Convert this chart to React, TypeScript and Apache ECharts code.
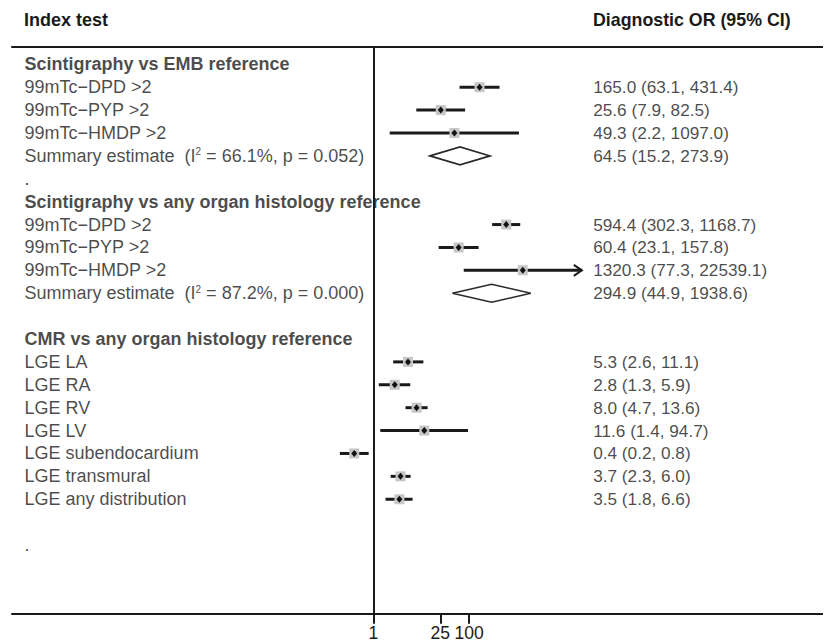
import React, { useEffect, useRef } from "react";
import * as echarts from "echarts";

// ---------- data ----------
const rowLabels: string[] = [
  "Scintigraphy vs EMB reference",
  "99mTc\u2212DPD >2",
  "99mTc\u2212PYP >2",
  "99mTc\u2212HMDP >2",
  "Summary estimate  (I{sup|2} = 66.1%, p = 0.052)",
  ".",
  "Scintigraphy vs any organ histology reference",
  "99mTc\u2212DPD >2",
  "99mTc\u2212PYP >2",
  "99mTc\u2212HMDP >2",
  "Summary estimate  (I{sup|2} = 87.2%, p = 0.000)",
  "",
  "CMR vs any organ histology reference",
  "LGE LA",
  "LGE RA",
  "LGE RV",
  "LGE LV",
  "LGE subendocardium",
  "LGE transmural",
  "LGE any distribution",
  "",
  ".",
];
const headingRows = [0, 6, 12];

const studyRows = [1, 2, 3, 7, 8, 9, 13, 14, 15, 16, 17, 18, 19];
const studyOR = [165.0, 25.6, 49.3, 594.4, 60.4, 1320.3, 5.3, 2.8, 8.0, 11.6, 0.4, 3.7, 3.5];
const studyLo = [63.1, 7.9, 2.2, 302.3, 23.1, 77.3, 2.6, 1.3, 4.7, 1.4, 0.2, 2.3, 1.8];
const studyHi = [431.4, 82.5, 1097.0, 1168.7, 157.8, 22539.1, 11.1, 5.9, 13.6, 94.7, 0.8, 6.0, 6.6];

const summaryRows = [4, 10];
const summaryOR = [64.5, 294.9];
const summaryLo = [15.2, 44.9];
const summaryHi = [273.9, 1938.6];

const tickValues = [1, 25, 100];
const tickLabels = ["1", "25", "100"];

const headerLeft = "Index test";
const headerRight = "Diagnostic OR (95% CI)";

// ---------- layout ----------
const ARROW_LIMIT = 20000;
const X_MIN = -7.543; // log10 space
const X_MAX = 9.555;
const Y_MIN = -0.77;
const Y_MAX = 24;
const LEFT_TEXT_X = -7.292;
const RIGHT_TEXT_X = 4.580;
const FONT = "'Liberation Sans', Arial, Helvetica, sans-serif";
const INK = "#1a1a1a";
const LEFT_FS = 18;
const RIGHT_FS = 17.2;

const fmt = (v: number) => v.toFixed(1);

export default function App() {
  const ref = useRef<HTMLDivElement>(null);
  useEffect(() => {
    if (!ref.current) return;
    const chart = echarts.init(ref.current, undefined, { renderer: "svg" });

    const labelData: any[] = [];
    rowLabels.forEach((t, i) => {
      if (!t) return;
      labelData.push({
        name: t,
        value: [LEFT_TEXT_X, i],
        label: headingRows.includes(i)
          ? { fontWeight: "bold", fontSize: LEFT_FS }
          : { fontSize: LEFT_FS },
      });
    });
    studyRows.forEach((r, i) => {
      labelData.push({
        name: `${fmt(studyOR[i])} (${fmt(studyLo[i])}, ${fmt(studyHi[i])})`,
        value: [RIGHT_TEXT_X, r],
        label: { fontSize: RIGHT_FS },
      });
    });
    summaryRows.forEach((r, i) => {
      labelData.push({
        name: `${fmt(summaryOR[i])} (${fmt(summaryLo[i])}, ${fmt(summaryHi[i])})`,
        value: [RIGHT_TEXT_X, r],
        label: { fontSize: RIGHT_FS },
      });
    });

    const studyData = studyRows.map((r, i) => [
      r,
      Math.log10(studyLo[i]),
      Math.log10(studyHi[i]),
      Math.log10(studyOR[i]),
      studyHi[i] > ARROW_LIMIT ? 1 : 0,
    ]);
    const summaryData = summaryRows.map((r, i) => [
      r,
      Math.log10(summaryLo[i]),
      Math.log10(summaryHi[i]),
      Math.log10(summaryOR[i]),
    ]);

    const logTicks = tickValues.map((v) => Math.log10(v));

    const option: any = {
      animation: false,
      textStyle: { fontFamily: FONT },
      grid: {
        left: 4,
        right: 0,
        top: 38.7,
        bottom: 30.3,
        containLabel: false,
        outerBoundsMode: "none",
      },
      xAxis: [
        {
          type: "value",
          min: X_MIN,
          max: X_MAX,
          position: "bottom",
          axisLine: { onZero: false, lineStyle: { color: INK, width: 2 } },
          axisTick: {
            show: true,
            customValues: logTicks,
            length: 10,
            lineStyle: { color: INK, width: 2 },
          },
          axisLabel: {
            show: true,
            customValues: logTicks,
            formatter: (v: number) => {
              const k = logTicks.findIndex((t) => Math.abs(t - v) < 1e-6);
              return k >= 0 ? tickLabels[k] : "";
            },
            fontSize: 17.5,
            lineHeight: 17,
            color: INK,
            fontFamily: FONT,
            margin: 11,
          },
          splitLine: { show: false },
        },
        {
          type: "value",
          min: X_MIN,
          max: X_MAX,
          position: "top",
          axisLine: { onZero: false, lineStyle: { color: INK, width: 2 } },
          axisTick: { show: false },
          axisLabel: { show: false },
          splitLine: { show: false },
        },
      ],
      yAxis: {
        type: "value",
        inverse: true,
        min: Y_MIN,
        max: Y_MAX,
        show: false,
      },
      graphic: [
        {
          type: "text",
          x: 16,
          y: 11.5,
          style: {
            text: headerLeft,
            font: `bold ${LEFT_FS}px ${FONT}`,
            fill: INK,
            verticalAlign: "middle",
          },
        },
        {
          type: "text",
          x: 585,
          y: 11.5,
          style: {
            text: headerRight,
            font: `bold 17.8px ${FONT}`,
            fill: INK,
            verticalAlign: "middle",
          },
        },
      ],
      series: [
        {
          type: "scatter",
          silent: true,
          symbol: "circle",
          symbolSize: 1,
          itemStyle: { color: "rgba(0,0,0,0)" },
          clip: false,
          data: labelData,
          label: {
            show: true,
            position: "right",
            distance: 0,
            formatter: (p: any) => p.name,
            fontSize: LEFT_FS,
            color: INK,
            fontFamily: FONT,
            rich: {
              sup: { fontSize: 10, verticalAlign: "top", color: INK, fontFamily: FONT },
            },
          },
          markLine: {
            silent: true,
            symbol: "none",
            label: { show: false },
            lineStyle: { type: "solid", width: 2, color: INK },
            data: [{ xAxis: 0 }],
          },
          z: 3,
        },
        {
          type: "custom",
          silent: true,
          encode: { x: [1, 2, 3], y: 0 },
          data: studyData,
          renderItem: (_params: any, api: any) => {
            const row = api.value(0);
            const pLo = api.coord([api.value(1), row]);
            const pHi = api.coord([api.value(2), row]);
            const pE = api.coord([api.value(3), row]);
            const arrow = api.value(4);
            const children: any[] = [
              {
                type: "line",
                shape: { x1: pLo[0], y1: pLo[1], x2: pHi[0], y2: pHi[1] },
                style: { stroke: INK, lineWidth: 3 },
              },
            ];
            if (arrow) {
              children.push({
                type: "polyline",
                shape: {
                  points: [
                    [pHi[0] - 8, pHi[1] - 5.5],
                    [pHi[0], pHi[1]],
                    [pHi[0] - 8, pHi[1] + 5.5],
                  ],
                },
                style: { stroke: INK, lineWidth: 2, fill: "none" },
              });
            }
            children.push({
              type: "rect",
              shape: { x: pE[0] - 5, y: pE[1] - 5, width: 10, height: 10 },
              style: { fill: "#c6c6c6" },
            });
            children.push({
              type: "polygon",
              shape: {
                points: [
                  [pE[0] - 3, pE[1]],
                  [pE[0], pE[1] - 3.5],
                  [pE[0] + 3, pE[1]],
                  [pE[0], pE[1] + 3.5],
                ],
              },
              style: { fill: "#111" },
            });
            return { type: "group", children };
          },
          z: 2,
        },
        {
          type: "custom",
          silent: true,
          encode: { x: [1, 2, 3], y: 0 },
          data: summaryData,
          renderItem: (_params: any, api: any) => {
            const row = api.value(0);
            const pLo = api.coord([api.value(1), row]);
            const pHi = api.coord([api.value(2), row]);
            const pE = api.coord([api.value(3), row]);
            const h = 9;
            return {
              type: "polygon",
              shape: {
                points: [
                  [pLo[0], pLo[1]],
                  [pE[0], pE[1] - h],
                  [pHi[0], pHi[1]],
                  [pE[0], pE[1] + h],
                ],
              },
              style: { fill: "none", stroke: "#2a2a2a", lineWidth: 1.6 },
            };
          },
          z: 2,
        },
      ],
    };

    chart.setOption(option);
    return () => chart.dispose();
  }, []);

  return <div ref={ref} style={{ width: 823, height: 636 }} />;
}
